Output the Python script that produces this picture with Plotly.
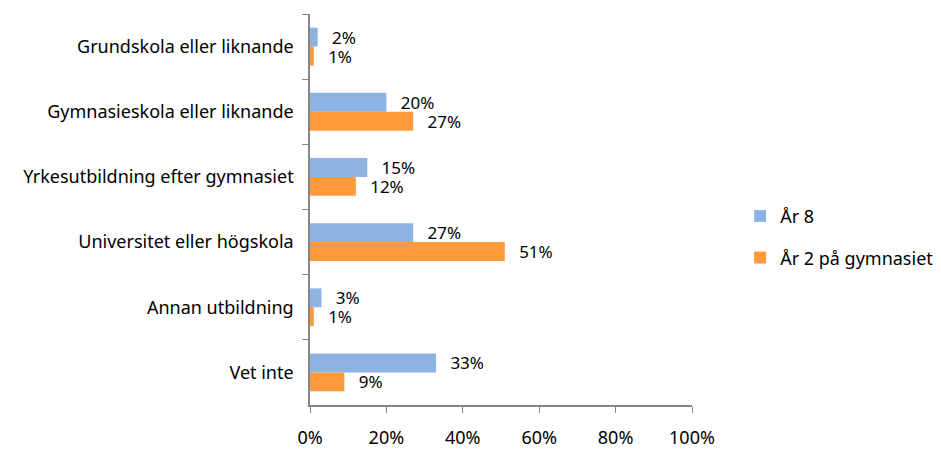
import plotly.graph_objects as go

categories = ["Grundskola eller liknande", "Gymnasieskola eller liknande",
              "Yrkesutbildning efter gymnasiet", "Universitet eller högskola",
              "Annan utbildning", "Vet inte"]
ar8 = [2, 20, 15, 27, 3, 33]
ar2 = [1, 27, 12, 51, 1, 9]
series_names = ["År 8", "År 2 på gymnasiet"]
x_ticks = [0, 20, 40, 60, 80, 100]
x_tick_labels = ["0%", "20%", "40%", "60%", "80%", "100%"]

font_family = "'Noto Sans', 'Open Sans', sans-serif"
fig = go.Figure()
for name, vals, color, grp in [(series_names[0], ar8, "#8DB3E2", "a"),
                               (series_names[1], ar2, "#FF9A3C", "b")]:
    fig.add_trace(go.Bar(
        y=categories, x=vals, name=name, orientation="h",
        marker=dict(color=color, line=dict(width=0)),
        text=[f"{v}%" for v in vals], texttemplate="\u2002\u2009%{text}",
        textposition="outside", cliponaxis=False, constraintext="none",
        textfont=dict(size=17, color="#000000", family=font_family),
        legendgroup=grp,
    ))

fig.update_layout(
    width=933, height=442,
    margin=dict(l=302, r=249, t=6, b=45, autoexpand=False),
    paper_bgcolor="white", plot_bgcolor="white",
    barmode="group", bargap=0.42, bargroupgap=0,
    font=dict(family=font_family, size=18, color="#000000"),
    legend=dict(x=1.126, y=0.43, xanchor="left", yanchor="middle",
                font=dict(size=18), tracegroupgap=15, itemwidth=30),
    xaxis=dict(range=[0, 100], tickvals=x_ticks, ticktext=x_tick_labels,
               showgrid=False, zeroline=False, showline=True,
               linecolor="#868686", linewidth=1.5, ticks="outside",
               ticklen=6, tickcolor="#868686", ticklabelstandoff=10,
               tickfont=dict(size=18), automargin=False),
    yaxis=dict(autorange="reversed", showgrid=False, showline=True,
               linecolor="#868686", linewidth=1.5, ticks="outside",
               tickson="boundaries", ticklen=6, tickcolor="#868686",
               ticklabelstandoff=11, tickfont=dict(size=18), automargin=False),
)
fig.write_html("out.html")
